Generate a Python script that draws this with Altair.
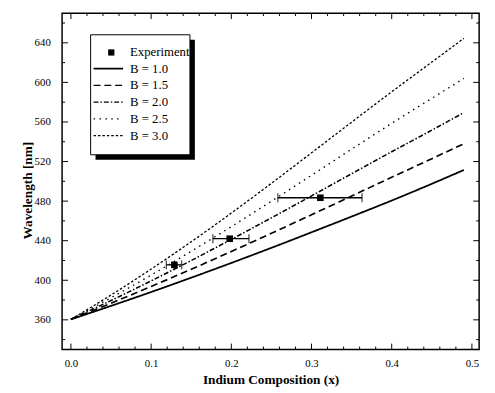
import altair as alt
import pandas as pd

# ---- data ----
x_vals = [0.0, 0.05, 0.10, 0.15, 0.20, 0.25, 0.30, 0.35, 0.40, 0.45, 0.49]
b_labels = ["B = 1.0", "B = 1.5", "B = 2.0", "B = 2.5", "B = 3.0"]
wl_b10 = [360.5, 374.1, 388.1, 402.6, 417.5, 432.8, 448.5, 464.4, 480.6, 497.5, 511.5]
wl_b15 = [360.5, 376.8, 393.7, 411.1, 429.1, 447.5, 466.2, 485.1, 504.1, 522.9, 538.0]
wl_b20 = [360.5, 379.5, 399.4, 420.0, 441.3, 463.1, 485.3, 507.7, 529.9, 551.7, 569.5]
wl_b25 = [360.5, 382.3, 405.2, 429.3, 454.2, 479.9, 506.1, 532.5, 558.6, 583.9, 604.0]
wl_b30 = [360.5, 385.1, 411.3, 438.9, 467.9, 498.0, 528.8, 559.8, 590.5, 620.5, 644.5]

exp_x = [0.129, 0.198, 0.311]
exp_wl = [415.6, 442.0, 483.4]
exp_xlo = [0.119, 0.177, 0.258]
exp_xhi = [0.138, 0.222, 0.363]

x_major = [0.0, 0.1, 0.2, 0.3, 0.4, 0.5]
x_minor = [0.02, 0.04, 0.06, 0.08, 0.12, 0.14, 0.16, 0.18, 0.22, 0.24, 0.26, 0.28,
           0.32, 0.34, 0.36, 0.38, 0.42, 0.44, 0.46, 0.48]
y_major = [360, 400, 440, 480, 520, 560, 600, 640]
y_minor = [340, 380, 420, 460, 500, 540, 580, 620, 660]

# ---- layout / style ----
W, H = 424, 342
FONT = "Times New Roman, Liberation Serif, serif"
dash_range = [[1, 0], [7, 4], [5, 2, 1.5, 2], [1.5, 4.5], [2.5, 2]]
width_range = [1.8, 1.3, 1.3, 1.4, 1.3]

xs = alt.Scale(domain=[-0.011, 0.509], nice=False, zero=False)
ys = alt.Scale(domain=[330, 670], nice=False, zero=False)

rows = []
for lab, wl in zip(b_labels, [wl_b10, wl_b15, wl_b20, wl_b25, wl_b30]):
    for xv, w in zip(x_vals, wl):
        rows.append({"x": xv, "wl": w, "B": lab})
lines_df = pd.DataFrame(rows)
exp_df = pd.DataFrame({"x": exp_x, "wl": exp_wl, "lo": exp_xlo, "hi": exp_xhi})

x_axis = alt.Axis(values=x_major, format=".1f", title="Indium Composition (x)",
                  ticks=False, domain=False, grid=False, labelPadding=8,
                  titlePadding=5)
y_axis = alt.Axis(values=y_major, format="d", title="Wavelength [nm]",
                  ticks=False, domain=False, grid=False, labelPadding=12,
                  titleX=-28, titleY=180)

lines = alt.Chart(lines_df).mark_line(color="black", interpolate="monotone").encode(
    x=alt.X("x:Q", scale=xs, axis=x_axis),
    y=alt.Y("wl:Q", scale=ys, axis=y_axis),
    strokeDash=alt.StrokeDash("B:N", scale=alt.Scale(domain=b_labels, range=dash_range), legend=None),
    strokeWidth=alt.StrokeWidth("B:N", scale=alt.Scale(domain=b_labels, range=width_range), legend=None),
    detail="B:N",
)

ebar = alt.Chart(exp_df).mark_rule(color="black", strokeWidth=1.3).encode(
    x=alt.X("lo:Q", scale=xs), x2="hi:Q", y=alt.Y("wl:Q", scale=ys))
cap_lo = alt.Chart(exp_df).mark_tick(color="black", orient="vertical", size=9, thickness=1.3).encode(
    x=alt.X("lo:Q", scale=xs), y=alt.Y("wl:Q", scale=ys))
cap_hi = alt.Chart(exp_df).mark_tick(color="black", orient="vertical", size=9, thickness=1.3).encode(
    x=alt.X("hi:Q", scale=xs), y=alt.Y("wl:Q", scale=ys))
pts = alt.Chart(exp_df).mark_square(color="black", size=45, opacity=1).encode(
    x=alt.X("x:Q", scale=xs), y=alt.Y("wl:Q", scale=ys))

# ---- inward tick marks on all four sides ----
def xticks(vals, length):
    d = pd.DataFrame({"v": vals})
    bot = alt.Chart(d).mark_rule(color="black", strokeWidth=1).encode(
        x=alt.X("v:Q", scale=xs), y=alt.value(H), y2=alt.value(H - length))
    top = alt.Chart(d).mark_rule(color="black", strokeWidth=1).encode(
        x=alt.X("v:Q", scale=xs), y=alt.value(0), y2=alt.value(length))
    return [bot, top]

def yticks(vals, length):
    d = pd.DataFrame({"v": vals})
    left = alt.Chart(d).mark_rule(color="black", strokeWidth=1).encode(
        y=alt.Y("v:Q", scale=ys), x=alt.value(0), x2=alt.value(length))
    right = alt.Chart(d).mark_rule(color="black", strokeWidth=1).encode(
        y=alt.Y("v:Q", scale=ys), x=alt.value(W), x2=alt.value(W - length))
    return [left, right]

tick_layers = xticks(x_major, 6) + xticks(x_minor, 3) + yticks(y_major, 6) + yticks(y_minor, 3)

# ---- hand-drawn legend box ----
one = pd.DataFrame({"k": [0]})
bx0, bx1, by0, by1 = 29, 130, 22, 144
shadow = alt.Chart(one).mark_rect(color="black").encode(
    x=alt.value(bx0 + 5), x2=alt.value(bx1 + 5), y=alt.value(by0 + 5), y2=alt.value(by1 + 5))
box = alt.Chart(one).mark_rect(fill="white", stroke="black", strokeWidth=1).encode(
    x=alt.value(bx0), x2=alt.value(bx1), y=alt.value(by0), y2=alt.value(by1))
leg_layers = [shadow, box]
row_y = [40, 56.5, 73.5, 90.5, 107.5, 124.5]
leg_layers.append(alt.Chart(one).mark_square(color="black", size=40, opacity=1).encode(
    x=alt.value(50), y=alt.value(row_y[0])))
leg_layers.append(alt.Chart(one).mark_text(font=FONT, fontSize=13, align="left", baseline="middle").encode(
    x=alt.value(69), y=alt.value(row_y[0]), text=alt.value("Experiment")))
for i, lab in enumerate(b_labels):
    yy = row_y[i + 1]
    leg_layers.append(alt.Chart(one).mark_rule(color="black", strokeDash=dash_range[i],
                                                 strokeWidth=width_range[i]).encode(
        x=alt.value(32), x2=alt.value(62), y=alt.value(yy)))
    leg_layers.append(alt.Chart(one).mark_text(font=FONT, fontSize=13, align="left", baseline="middle").encode(
        x=alt.value(69), y=alt.value(yy), text=alt.value(lab)))

chart = alt.layer(lines, ebar, cap_lo, cap_hi, pts, *tick_layers, *leg_layers).properties(
    width=W, height=H,
    autosize=alt.AutoSizeParams(type="none"),
    padding={"left": 55, "top": 2, "right": 8, "bottom": 42},
).configure_view(stroke="black", strokeWidth=1.5
).configure_axis(labelFont=FONT, labelFontSize=11, labelColor="black",
                 titleFont=FONT, titleFontSize=13.5, titleFontWeight="bold", titleColor="black")

chart.save("out.html", embed_options={"renderer": "svg", "actions": False})
